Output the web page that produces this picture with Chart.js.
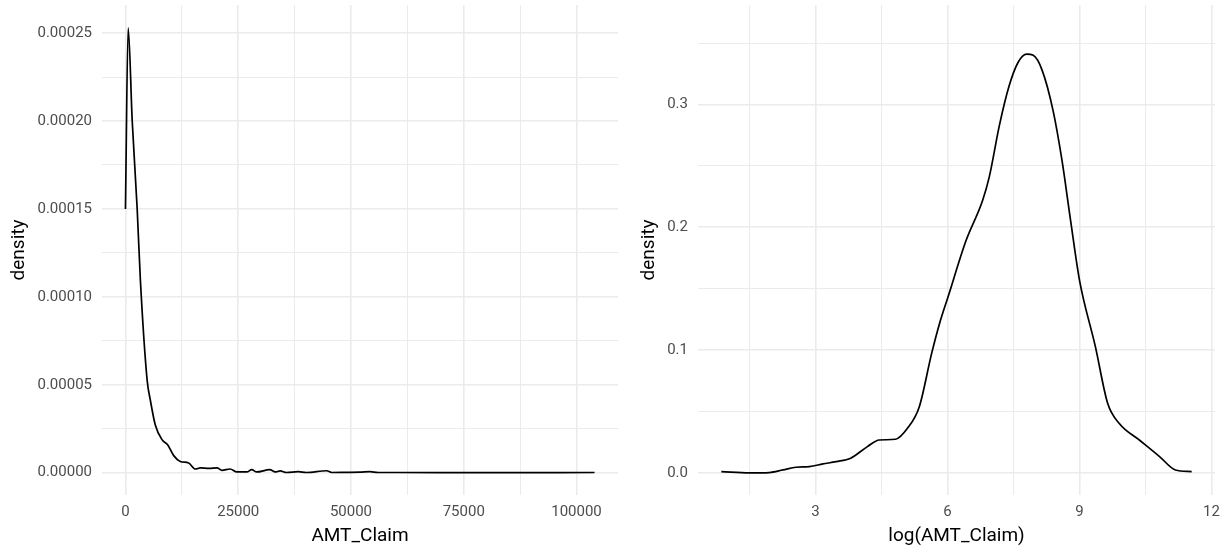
<!DOCTYPE html>
<html>
<head>
<meta charset="utf-8">
<script src="https://cdn.jsdelivr.net/npm/chart.js@4"></script>
<style>
  html, body { margin: 0; padding: 0; background: #fff; }
  #wrap { position: relative; width: 1225px; height: 548px; }
  #leftChart { position: absolute; left: 0; top: 0; }
  #rightChart { position: absolute; left: 630px; top: 0; }
</style>
</head>
<body>
<div id="wrap">
  <canvas id="leftChart" width="630" height="548"></canvas>
  <canvas id="rightChart" width="595" height="548"></canvas>
</div>
<script>
// density of AMT_Claim
const claimX = [0, 600, 1500, 2600, 3300, 4800, 5500, 6600, 8100, 9350, 10700, 12150, 14000, 15500,
  16600, 18500, 20300, 21400, 23200, 24700, 26900, 28000, 29100, 32000, 33200, 34300, 35700,
  38300, 40100, 44600, 45700, 49000, 52000, 54200, 56000, 60000, 80000, 104000];
const claimDensity = [0.000150, 0.000253, 0.000200, 0.000150, 0.000110, 0.0000528, 0.0000415, 0.0000273,
  0.0000188, 0.0000159, 0.0000097, 0.0000064, 0.0000055, 0.0000021, 0.0000027, 0.0000025, 0.0000027,
  0.0000013, 0.0000021, 0.0000004, 0.0000004, 0.0000017, 0.0000004, 0.0000017, 0.0000004, 0.0000010,
  0.0000001, 0.0000006, 0.0000001, 0.0000011, 0.0000001, 0.0000002, 0.0000003, 0.0000006, 0.0000001,
  0.0000001, 0.0, 0.0000001];

// density of log(AMT_Claim)
const logX = [0.86, 1.5, 1.95, 2.26, 2.56, 2.86, 3.17, 3.47, 3.8, 4.18, 4.45, 4.82, 5.09, 5.36, 5.64,
  5.82, 6.01, 6.42, 6.8, 6.95, 7.18, 7.4, 7.6, 7.8, 7.95, 8.15, 8.4, 8.6, 8.8, 9.0, 9.36, 9.64, 9.91,
  10.36, 10.82, 11.18, 11.55];
const logDensity = [0.001, 0.0, 0.0003, 0.0024, 0.0046, 0.0051, 0.0073, 0.0092, 0.012, 0.0214, 0.0268,
  0.0274, 0.0363, 0.0539, 0.0973, 0.1217, 0.143, 0.189, 0.222, 0.241, 0.283, 0.315, 0.334, 0.341,
  0.340, 0.328, 0.295, 0.255, 0.205, 0.157, 0.103, 0.0567, 0.040, 0.0268, 0.0133, 0.0024, 0.001];

// tick positions (major labelled, minor in between)
const claimXTicks = [0, 25000, 50000, 75000, 100000];
const claimYTicks = [0, 0.00005, 0.0001, 0.00015, 0.0002, 0.00025];
const logXTicks = [3, 6, 9, 12];
const logYTicks = [0, 0.1, 0.2, 0.3];

const tickFont = { family: 'Roboto', size: 15 };
const titleFont = { family: 'Roboto', size: 19 };

function withMinor(majors, lo, hi) {
  const step = majors[1] - majors[0];
  const out = [];
  for (let i = -1; i < majors.length; i++) {
    const m = i < 0 ? majors[0] - step : majors[i];
    if (m >= lo && m <= hi) out.push({ value: m, major: true });
    const half = m + step / 2;
    if (half >= lo && half <= hi) out.push({ value: half, major: false });
  }
  return out.sort((a, b) => a.value - b.value);
}

function axis(opts) {
  return {
    type: 'linear',
    min: opts.min,
    max: opts.max,
    afterBuildTicks: scale => { scale.ticks = withMinor(opts.majors, opts.min, opts.max); },
    afterFit: scale => {
      // panel edges are fixed, so drop the label overhang padding
      scale.paddingTop = 0;
      scale.paddingBottom = 0;
      scale.paddingLeft = 0;
      scale.paddingRight = 0;
      if (opts.width) scale.width = opts.width;
      if (opts.height) scale.height = opts.height;
    },
    border: { display: false },
    grid: {
      drawTicks: false,
      color: '#ebebeb',
      lineWidth: ctx => (ctx.tick && ctx.tick.major) ? 1.6 : 1
    },
    ticks: {
      color: '#4d4d4d',
      font: tickFont,
      padding: opts.padding,
      autoSkip: false,
      maxRotation: 0,
      callback: function (value, index, ticks) {
        return ticks[index].major ? opts.fmt(value) : '';
      }
    },
    title: {
      display: true,
      text: opts.title,
      color: '#000',
      font: titleFont,
      padding: opts.titlePadding
    }
  };
}

function densityChart(id, xs, ys, xAxis, yAxis, pad) {
  new Chart(document.getElementById(id), {
    type: 'line',
    data: {
      datasets: [{
        data: xs.map((x, i) => ({ x: x, y: ys[i] })),
        borderColor: '#000',
        borderWidth: 1.7,
        pointRadius: 0,
        fill: false,
        cubicInterpolationMode: 'monotone'
      }]
    },
    options: {
      responsive: false,
      animation: false,
      layout: { padding: pad },
      plugins: { legend: { display: false }, tooltip: { enabled: false } },
      scales: { x: xAxis, y: yAxis }
    }
  });
}

densityChart('leftChart', claimX, claimDensity,
  axis({ min: -5200, max: 109200, majors: claimXTicks, height: 53, padding: 8,
    fmt: v => String(v), title: 'AMT_Claim', titlePadding: { top: 0, bottom: 0 } }),
  axis({ min: -0.0000127, max: 0.000266, majors: claimYTicks, width: 102, padding: 10,
    fmt: v => v.toFixed(5), title: 'density', titlePadding: { top: 8, bottom: 0 } }),
  { top: 5, right: 12, left: 0, bottom: 0 });

densityChart('rightChart', logX, logDensity,
  axis({ min: 0.33, max: 12.08, majors: logXTicks, height: 53, padding: 8,
    fmt: v => String(v), title: 'log(AMT_Claim)', titlePadding: { top: 0, bottom: 0 } }),
  axis({ min: -0.018, max: 0.381, majors: logYTicks, width: 68, padding: 10,
    fmt: v => v.toFixed(1), title: 'density', titlePadding: { top: 8, bottom: 0 } }),
  { top: 5, right: 10, left: 0, bottom: 0 });
</script>
</body>
</html>
